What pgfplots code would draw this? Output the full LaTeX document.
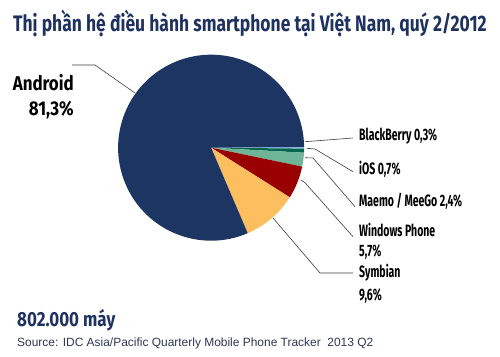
\documentclass[border=0pt]{standalone}
\usepackage{fontspec}
\usepackage{pgfplots}
\usepackage{pgfplotstable}
\pgfplotsset{compat=1.18}
\setmainfont{Fira Sans}[FakeStretch=0.78]
\newfontfamily\labfont{Fira Sans}[FakeStretch=0.64]
\newfontfamily\andfont{Fira Sans}[FakeStretch=0.85]
\newfontfamily\numfont{Fira Sans}[FakeStretch=0.83]
\newfontfamily\srcfont{Liberation Sans}
\definecolor{cAnd}{RGB}{29,53,99}
\definecolor{cBB}{RGB}{141,180,226}
\definecolor{cIOS}{RGB}{0,102,76}
\definecolor{cMaemo}{RGB}{110,180,150}
\definecolor{cWP}{RGB}{153,0,0}
\definecolor{cSym}{RGB}{252,190,95}
\definecolor{titlecol}{RGB}{31,50,95}
\definecolor{srccol}{RGB}{45,55,85}
\definecolor{leader}{RGB}{60,60,60}

\pgfplotstableread[col sep=comma]{
os,share,col
BlackBerry,0.3,cBB
iOS,0.7,cIOS
Maemo,2.4,cMaemo
WindowsPhone,5.7,cWP
Symbian,9.6,cSym
Android,81.3,cAnd
}\piedata

\begin{document}
\begin{tikzpicture}[x=1bp,y=1bp]
\path[use as bounding box] (0,0) rectangle (500,356);
\begin{axis}[
  at={(227,224)}, anchor=origin,
  x=93bp, y=93bp,
  xmin=-1, xmax=1, ymin=-1, ymax=1,
  hide axis, clip=false,
]
\pgfmathsetmacro{\cur}{0.5}
\pgfplotstablegetrowsof{\piedata}
\pgfmathtruncatemacro{\lastrow}{\pgfplotsretval-1}
\pgfplotsforeachungrouped \i in {0,...,\lastrow}{%
  \pgfplotstablegetelem{\i}{share}\of\piedata \let\sliceval\pgfplotsretval
  \pgfplotstablegetelem{\i}{col}\of\piedata \let\slicecol\pgfplotsretval
  \pgfmathsetmacro{\nxt}{\cur-3.6*\sliceval}%
  \edef\temp{\noexpand\fill[\slicecol] (axis cs:0,0) -- ++(\cur:93bp) arc[start angle=\cur, end angle=\nxt, radius=93bp] -- cycle;}%
  \temp
  \global\let\cur\nxt
}
\end{axis}
% leader lines
\begin{scope}[leader, line width=0.6bp]
\draw (72,291) -- (95,291) -- (135,263);
\draw (305,214.3) -- (353,218);
\draw (306.7,207.7) -- (315,207) -- (353,184.3);
\draw (305,198.3) -- (313,198) -- (355,149.3);
\draw (300.7,176) -- (305,173.3) -- (353,119.3);
\draw (273,138) -- (320,83) -- (353,83);
\end{scope}
% title
\node[anchor=base west, inner sep=0, text=titlecol, font=\fontsize{22.5}{26}\selectfont\bfseries] at (13,325) {Thị phần hệ điều hành smartphone tại Việt Nam, quý 2/2012};
% labels
\begin{scope}[font=\labfont\fontsize{16.5}{19}\selectfont\bfseries, inner sep=0]
\node[anchor=base west] at (359,216) {BlackBerry 0,3\%};
\node[anchor=base west] at (359,182) {iOS 0,7\%};
\node[anchor=base west] at (359,149.3) {Maemo / MeeGo 2,4\%};
\node[anchor=base west] at (359,119.3) {Windows Phone};
\node[anchor=base west] at (359,99.3) {5,7\%};
\node[anchor=base west] at (359,78.3) {Symbian};
\node[anchor=base west] at (359,56) {9,6\%};
\end{scope}
\begin{scope}[font=\andfont\fontsize{20}{24}\selectfont\bfseries, inner sep=0]
\node[anchor=base east] at (74,266) {Android};
\node[anchor=base east] at (74,240.3) {81,3\%};
\end{scope}
\node[anchor=base west, inner sep=0, text=titlecol, font=\numfont\fontsize{20.5}{24}\selectfont\bfseries] at (17,29.3) {802.000 máy};
\node[anchor=base west, inner sep=0, text=srccol, font=\srcfont\fontsize{12}{14}\selectfont] at (17,9.3) {Source: IDC Asia/Pacific Quarterly Mobile Phone Tracker\ \ 2013 Q2};
\end{tikzpicture}
\end{document}
